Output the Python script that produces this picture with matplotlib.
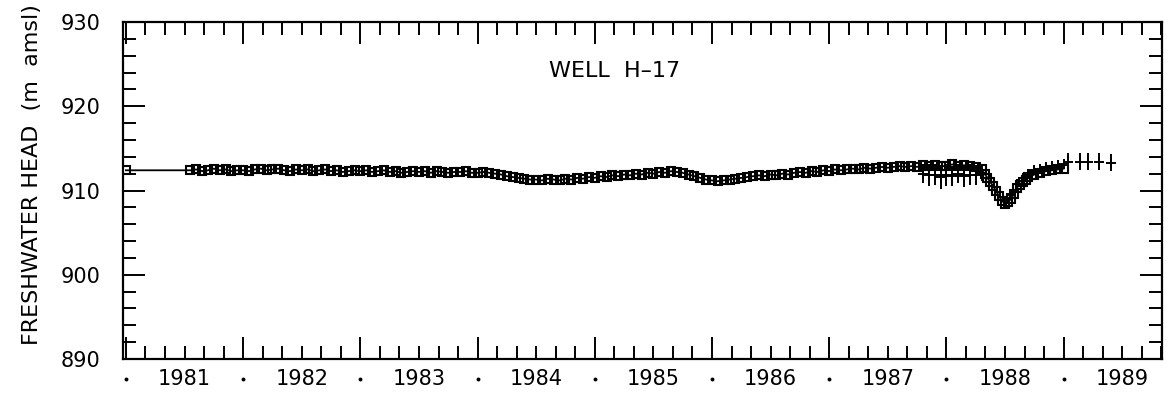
import numpy as np
import matplotlib.pyplot as plt

plt.rcParams['font.family'] = ['DejaVu Sans']

sq_dates = [
    1981.00,
    1981.55, 1981.60, 1981.65, 1981.70, 1981.75, 1981.80, 1981.85, 1981.90, 1981.95,
    1982.00, 1982.05, 1982.10, 1982.15, 1982.20, 1982.25, 1982.30, 1982.35, 1982.40, 1982.45,
    1982.50, 1982.55, 1982.60, 1982.65, 1982.70, 1982.75, 1982.80, 1982.85, 1982.90, 1982.95,
    1983.00, 1983.05, 1983.10, 1983.15, 1983.20, 1983.25, 1983.30, 1983.35, 1983.40, 1983.45,
    1983.50, 1983.55, 1983.60, 1983.65, 1983.70, 1983.75, 1983.80, 1983.85, 1983.90, 1983.95,
    1984.00, 1984.05, 1984.10, 1984.15, 1984.20, 1984.25, 1984.30, 1984.35, 1984.40, 1984.45,
    1984.50, 1984.55, 1984.60, 1984.65, 1984.70, 1984.75, 1984.80, 1984.85, 1984.90, 1984.95,
    1985.00, 1985.05, 1985.10, 1985.15, 1985.20, 1985.25, 1985.30, 1985.35, 1985.40, 1985.45,
    1985.50, 1985.55, 1985.60, 1985.65, 1985.70, 1985.75, 1985.80, 1985.85, 1985.90, 1985.95,
    1986.00, 1986.05, 1986.10, 1986.15, 1986.20, 1986.25, 1986.30, 1986.35, 1986.40, 1986.45,
    1986.50, 1986.55, 1986.60, 1986.65, 1986.70, 1986.75, 1986.80, 1986.85, 1986.90, 1986.95,
    1987.00, 1987.05, 1987.10, 1987.15, 1987.20, 1987.25, 1987.30, 1987.35, 1987.40, 1987.45,
    1987.50, 1987.55, 1987.60, 1987.65, 1987.70, 1987.75, 1987.80, 1987.85, 1987.90, 1987.95,
    1988.00, 1988.05, 1988.10, 1988.15, 1988.20, 1988.25, 1988.30, 1988.325, 1988.35, 1988.375,
    1988.40, 1988.425, 1988.45, 1988.475, 1988.50, 1988.525, 1988.55, 1988.575, 1988.60, 1988.625,
    1988.65, 1988.675, 1988.70, 1988.75, 1988.80, 1988.85, 1988.90, 1988.95,
    1989.00,
]
sq_heads = [
    912.4,
    912.4, 912.5, 912.3, 912.4, 912.6, 912.4, 912.5, 912.3, 912.4,
    912.4, 912.3, 912.5, 912.6, 912.4, 912.5, 912.6, 912.4, 912.3, 912.5,
    912.4, 912.5, 912.3, 912.4, 912.5, 912.3, 912.4, 912.2, 912.3, 912.4,
    912.3, 912.4, 912.2, 912.3, 912.4, 912.2, 912.3, 912.1, 912.2, 912.3,
    912.2, 912.3, 912.1, 912.3, 912.2, 912.1, 912.2, 912.2, 912.3, 912.1,
    912.1, 912.2, 912.1, 912.0, 911.9, 911.7, 911.6, 911.5, 911.4, 911.3,
    911.3, 911.2, 911.4, 911.3, 911.2, 911.4, 911.3, 911.5, 911.4, 911.6,
    911.5, 911.7, 911.6, 911.8, 911.7, 911.9, 911.8, 912.0, 911.9, 912.1,
    912.0, 912.2, 912.1, 912.3, 912.2, 912.1, 911.9, 911.7, 911.5, 911.3,
    911.2, 911.1, 911.2, 911.3, 911.4, 911.5, 911.6, 911.7, 911.8, 911.7,
    911.9, 911.8, 912.0, 911.9, 912.1, 912.2, 912.1, 912.3, 912.2, 912.4,
    912.3, 912.5, 912.4, 912.5, 912.6, 912.5, 912.7, 912.6, 912.7, 912.8,
    912.7, 912.8, 912.9, 912.8, 912.9, 912.8, 913.0, 912.9, 913.0, 912.9,
    912.9, 913.1, 912.9, 913.0, 912.9, 912.8, 912.5, 912.0, 911.5, 911.0,
    910.5, 909.9, 909.3, 908.8, 908.4, 908.6, 909.0, 909.6, 910.3, 910.7,
    911.0, 911.3, 911.6, 911.9, 912.1, 912.3, 912.4, 912.5,
    912.6,
]

# Readings drawn as "+" with vertical bars
pl_dates = [
    1987.80, 1987.85, 1987.90, 1987.95, 1988.00, 1988.05, 1988.10, 1988.15, 1988.20, 1988.25, 1988.30,
    1988.55, 1988.60, 1988.65, 1988.70, 1988.75, 1988.80, 1988.85, 1988.90, 1988.95, 1989.00,
    1989.04, 1989.14, 1989.21, 1989.30, 1989.40,
]
pl_heads = [
    912.0, 911.8, 911.9, 911.6, 911.8, 911.7, 912.0, 911.7, 911.9, 911.8, 912.1,
    909.6, 910.8, 911.5, 912.0, 912.4, 912.6, 912.8, 912.9, 913.0, 913.1,
    913.4, 913.4, 913.4, 913.4, 913.3,
]
pl_err = [
    1.1, 1.3, 1.2, 1.4, 1.3, 1.2, 1.1, 1.3, 1.2, 1.2, 1.0,
    0.6, 0.6, 0.6, 0.6, 0.6, 0.6, 0.6, 0.6, 0.6, 0.6,
    1.0, 1.0, 1.0, 1.0, 1.0,
]

year_labels = [1981, 1982, 1983, 1984, 1985, 1986, 1987, 1988, 1989]
y_ticks = [890, 900, 910, 920, 930]

fig = plt.figure(figsize=(11.75, 3.96), dpi=100)
ax = fig.add_axes([0.1047, 0.0934, 0.8843, 0.851])

ax.plot(sq_dates, sq_heads, color='black', lw=1.3, marker='s', ms=6,
        mfc='none', mec='black', mew=1.5)
ax.errorbar(pl_dates, pl_heads, yerr=pl_err, fmt='+', color='black',
            ms=7, mew=1.4, elinewidth=1.4, capsize=0)

ax.set_xlim(1980.975, 1989.84)
ax.set_ylim(890, 930)

# axis furniture: yearly long ticks, two-month short ticks
ax.set_xticks(year_labels)
ax.set_xticks(np.arange(1981, 1989.84, 1 / 6), minor=True)
ax.set_yticks(y_ticks)
ax.set_yticks(np.arange(890, 931, 2), minor=True)

ax.tick_params(which='both', direction='in', top=True, right=True,
               width=1.4, colors='black')
ax.tick_params(which='major', length=16)
ax.tick_params(which='minor', length=9.5)
ax.tick_params(axis='x', labelbottom=False)
ax.tick_params(axis='y', labelsize=15, pad=16)
for s in ax.spines.values():
    s.set_linewidth(1.6)

# year names sit mid-year, dots mark the year boundaries
xt = ax.get_xaxis_transform()
for yr in year_labels:
    ax.text(yr + 0.5, -0.06, str(yr), transform=xt, ha='center', va='center',
            fontsize=15)
ax.plot(year_labels, [-0.06] * len(year_labels), transform=xt, ls='none',
        marker='o', ms=1.8, color='black', clip_on=False)

ax.text(0.4726, 0.855, 'WELL  H\u201317', transform=ax.transAxes,
        ha='center', va='center', fontsize=16)

ax.set_ylabel('FRESHWATER HEAD  (m  amsl)', fontsize=16)
ax.yaxis.set_label_coords(-0.078, 0.547)

fig.savefig('out.png', dpi=100)
